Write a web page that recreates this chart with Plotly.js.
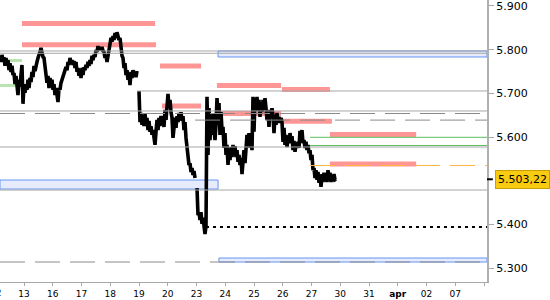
<!DOCTYPE html>
<html><head><meta charset="utf-8">
<script src="https://cdn.plot.ly/plotly-3.0.1.min.js"></script>
<style>html,body{margin:0;padding:0;background:#fff}#chart{width:550px;height:300px}</style>
</head><body><div id="chart"></div>
<script>
// trading-day tick labels (index = trading day number)
const dayLabels = ['12','13','16','17','18','19','20','23','24','25','26','27','30','31','<b>apr</b>','02','07',''];
const dayTicks = [0,1,2,3,4,5,6,7,8,9,10,11,12,13,14,15,16,17];
const priceTicks = [5300,5400,5600,5700,5800,5900]; // 5.500 sits under the last-price label
const viewStartDay = 0.1652, viewEndDay = 17.104;
const firstSampleDay = 0.165, samplesPerDay = 28.75;

// intraday prices (regular sampling), null = session break
const priceMar12_16 = [5783,5772,5788,5774,5783,5763,5781,5767,5776,5753,
5769,5749,5763,5742,5747,5721,5740,5708,5696,5731,
5715,5742,5765,5676,5721,5701,5719,5708,5731,5712,
5735,5726,5749,5737,5763,5751,5767,5772,5781,5786,
5795,5804,5786,5783,5781,5760,5735,5724,5740,5712,
5735,5715,5731,5708,5721,5696,5712,5692,5680,5712,
5708,5724,5731,5737,5742,5749,5760,5753,5772,5765];
const priceMar17_18 = [5781,5769,5776,5765,5774,5758,5772,5749,5758,5740,
5749,5735,5758,5742,5760,5753,5765,5758,5772,5763,
5776,5767,5786,5776,5788,5783,5799,5795,5808,5799,
5806,5799,5806,5797,5795,5781,5788,5772,5783,5804,
5813,5827,5818,5831,5822,5838,5827,5840,5829,5822,
5827,5804,5786,5781,5758,5769,5742,5753,5731,5744,
5719,5749,5735,5753,5740,5749,5737,5751,null];
const priceMar19_20 = [5705,5634,5655,5628,5650,5625,5653,5630,5644,5616,
5637,5612,5625,5605,5616,5593,5582,5612,5639,5616,
5644,5625,5648,5628,5646,5623,5662,5639,5685,5699,
5666,5685,5657,5644,5598,5628,5644,5621,5648,5634,
5655,5639,5657,5637,5648,5616,5634,5598,5570,5547,
5536,5540,5520,5529,5513,5522,5506,null];
const priceMar23_25 = [5483,5421,5428,5410,5428,5401,5415,5387,5378,5396,
5692,5559,5666,5593,5650,5605,5655,5616,5593,5628,
5689,5650,5678,5605,5657,5616,5623,5575,5609,5559,
5582,5536,5570,5547,5577,5554,5582,5559,5579,5554,
5570,5543,5559,5536,5552,5515,5547,5570,5540,5575,
5605,5582,5609,5575,5598,5570,5692,5612,5689,5666,
5692,5660,5685,5646,5680,5657,5685,5662,5689,5666,
5639,5657,5623,5662,5644,5666,5650,5609,5650,5628,
5655,5632,5646,5632,5644,5634];
const priceMar26_27 = [5589,5621,5582,5605,5577,5598,5586,5609,5589,5602,
5570,5591,5566,5584,5575,5589,5575,5614,5593,5616,
5586,5593,5575,5589,5570,5582,5563,5570,5547,5559,
5524,5529,5506,5524,5502,5520,5495,5513,5486,5515,
5497,5518,5499,5513,5497,5524,5502,5518,5497,5513,
5499,5515,5502,5503.22];

// levels: [fromDay, toDay, price]  (null = chart edge)
const redZones = [[0.93,5.56,5860],[0.93,5.59,5811],[5.73,7.16,5762.6],[5.80,7.16,5671],
  [7.71,9.94,5718],[9.97,11.64,5708.8],[7.82,9.94,5653.8],[9.97,11.71,5636],
  [11.64,14.64,5605.7],[11.64,14.64,5538.2]];
const greenZones = [[null,0.93,5775.2],[null,0.93,5718]];
const graySolid = [[null,null,5797],[null,null,5791.7],[4.93,null,5705.4],[null,null,5659.6],[null,null,5577.1],[null,null,5478.6]];
const grayDashed = [[null,null,5653.8],[6.95,null,5638.7],[null,null,5313.8]];
const dottedLevels = [[7.33,null,5393.9]];
const greenLevels = [[10.95,null,5599.3],[10.95,null,5580.6]];
const orangeLevels = [[10.95,null,5534.8]];
// blue zones: [fromDay, toDay, low, high]
const blueZones = [[7.75,null,5783.2,5797],[null,7.75,5480.9,5501.5],[7.78,null,5313.8,5322.9]];

const price = [].concat(priceMar12_16, priceMar17_18, priceMar19_20, priceMar23_25, priceMar26_27);
const xs = price.map((_, k) => firstSampleDay + k / samplesPerDay);
const lastPrice = price[price.length - 1];

function fmt(v){ const s=v.toFixed(2).split('.'); return s[0].replace(/\B(?=(\d{3})+(?!\d))/g,'.')+','+s[1]; }

const shapes = [];
function hline(arr, style, layer){
  arr.forEach(([a,b,p]) => {
    const s = {type:'line', layer:layer, yref:'y', y0:p, y1:p, line:style};
    if (a===null && b===null){ s.xref='paper'; s.x0=0; s.x1=1; }
    else if (a===null){ s.xref='x'; s.x0=viewStartDay; s.x1=b; }
    else if (b===null){ s.xref='x'; s.x0=a; s.x1=viewEndDay; }
    else { s.xref='x'; s.x0=a; s.x1=b; }
    shapes.push(s);
  });
}
blueZones.forEach(([a,b,lo,hi]) => shapes.push({type:'rect', layer:'below', xref:'x', yref:'y',
  x0: a===null?viewStartDay:a, x1: b===null?viewEndDay:b, y0:lo, y1:hi,
  fillcolor:'#e6ecfd', line:{color:'#6495f0', width:1}}));
hline(redZones, {color:'#ff9696', width:5}, 'below');
hline(greenZones, {color:'#b8e4b0', width:3}, 'below');
hline(graySolid, {color:'#a6a6a6', width:1}, 'above');
hline(grayDashed, {color:'#8a8a8a', width:1, dash:'25px,10px'}, 'above');
hline(dottedLevels, {color:'#000000', width:2, dash:'3px,4px'}, 'above');
hline(greenLevels, {color:'#5cbf5c', width:1}, 'above');
hline(orangeLevels, {color:'#ffb440', width:1, dash:'25px,10px'}, 'above');
shapes.push({type:'line', xref:'paper', yref:'y', x0:1, x1:1.012, y0:lastPrice, y1:lastPrice, line:{color:'#000', width:2}});

const data = [{x:xs, y:price, type:'scatter', mode:'lines', line:{color:'#000', width:3.6}, hoverinfo:'none', connectgaps:false}];

const layout = {
  width:550, height:300, margin:{l:0, r:63, t:0, b:18},
  paper_bgcolor:'#fff', plot_bgcolor:'#fff', showlegend:false, separators:',.',
  xaxis:{range:[viewStartDay, viewEndDay], tickvals:dayTicks, ticktext:dayLabels, ticks:'outside', ticklen:3,
    tickcolor:'#a8a8a8', showline:true, linecolor:'#a8a8a8', linewidth:1, showgrid:false, zeroline:false,
    tickfont:{family:'DejaVu Sans', size:9, color:'#000'}},
  yaxis:{side:'right', range:[5268, 5913.7], tickvals:priceTicks, tickformat:',.0f',
    ticks:'outside', ticklen:5, tickcolor:'#a8a8a8', showline:true, linecolor:'#b0b0b0', linewidth:2,
    ticklabeloverflow:'allow', showgrid:false, zeroline:false, tickfont:{family:'DejaVu Sans', size:11, color:'#000'}},
  shapes: shapes,
  annotations:[
    {xref:'paper', yref:'y', x:1, y:lastPrice, xanchor:'left', yanchor:'middle', xshift:8, showarrow:false,
     text:fmt(lastPrice), bgcolor:'#f8cb12', bordercolor:'#c9a000', borderwidth:1, borderpad:2,
     font:{family:'DejaVu Sans', size:11, color:'#000'}},
    {xref:'paper', yref:'paper', x:(dayTicks[0]-viewStartDay)/(viewEndDay-viewStartDay), y:0, yanchor:'top', yshift:-4,
     xanchor:'center', showarrow:false, text:dayLabels[0], font:{family:'DejaVu Sans', size:9, color:'#000'}}
  ]
};
Plotly.newPlot('chart', data, layout, {staticPlot:true, displayModeBar:false});
</script></body></html>
